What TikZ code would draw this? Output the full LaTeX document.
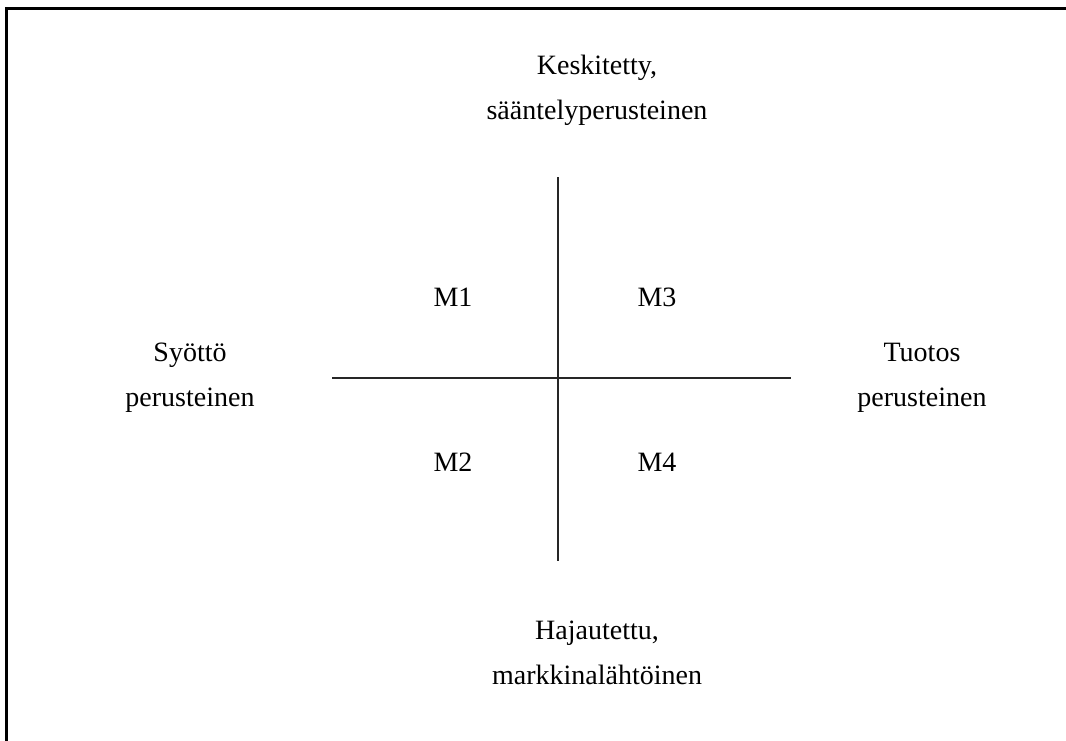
\documentclass[tikz,border=0pt]{standalone}
\usepackage{fontspec}
\setmainfont{Liberation Serif}
\begin{document}
\begin{tikzpicture}[x=1pt,y=-1pt,
    lbl/.style={align=center,inner sep=0pt,font=\fontsize{28}{45}\selectfont},
    axis/.style={line width=1.8pt,black!85},
    frameline/.style={line width=3pt,black}]
  \useasboundingbox (0,0) rectangle (1066,740);
  % outer frame (only top and left edges fall inside the page)
  \draw[frameline] (6,745) -- (6,8) -- (1070,8);
  % axes
  \coordinate (vtop) at (558,177);
  \coordinate (vbot) at (558,561);
  \coordinate (hl) at (332,378);
  \coordinate (hr) at (791,378);
  \draw[axis] (vtop) -- (vbot);
  \draw[axis] (hl) -- (hr);
  % quadrant labels
  \node[lbl] (m1) at (453,297) {M1};
  \node[lbl] (m3) at (657,297) {M3};
  \node[lbl] (m2) at (453,462) {M2};
  \node[lbl] (m4) at (657,462) {M4};
  % axis end labels
  \node[lbl] (top) at (597,90) {Keskitetty,\\sääntelyperusteinen};
  \node[lbl] (bot) at (597,653) {Hajautettu,\\markkinalähtöinen};
  \node[lbl] (left) at (190,378) {Syöttö\\perusteinen};
  \node[lbl] (right) at (922,378) {Tuotos\\perusteinen};
\end{tikzpicture}
\end{document}
